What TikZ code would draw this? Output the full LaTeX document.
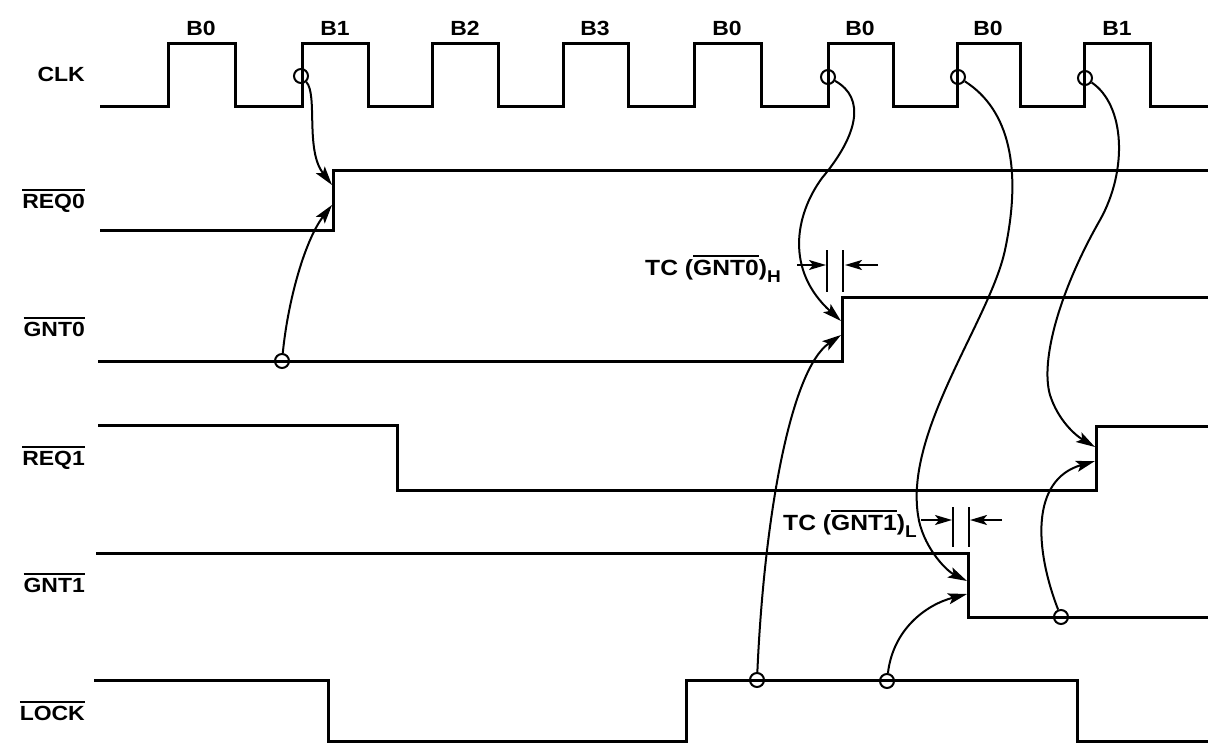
\documentclass[tikz,border=0pt]{standalone}
\usepackage{fontspec}
\setmainfont{Liberation Sans}[FakeStretch=1.12]
\usetikzlibrary{arrows.meta}
\newcommand\ovl[1]{\leavevmode\vbox{\hrule height 1.9pt\kern 2.5pt\hbox{#1}}}
\begin{document}
\begin{tikzpicture}[x=1pt,y=-1pt,
  sig/.style={line width=3pt,line join=miter},
  conn/.style={line width=2pt,-{Stealth[length=19pt,width=11pt,inset=4pt]}},
  tcarrow/.style={line width=2pt,-{Stealth[length=17pt,width=10pt,inset=4pt]}},
  tcbar/.style={line width=2.2pt},
  ring/.style={circle,draw,line width=2pt,minimum size=14pt,inner sep=0pt},
  lab/.style={font=\fontsize{20.5}{24}\selectfont\bfseries,inner sep=0pt},
  tclab/.style={font=\fontsize{22}{26}\selectfont\bfseries,inner sep=0pt}]
\fill[white] (0,0) rectangle (1208,744);
\useasboundingbox (0,0) rectangle (1208,744);

% signal names
\node[lab,anchor=base east] (lclk)  at (85,81)  {CLK};
\node[lab,anchor=base east] (lreq0) at (85,208) {\ovl{REQ0}};
\node[lab,anchor=base east] (lgnt0) at (85,336) {\ovl{GNT0}};
\node[lab,anchor=base east] (lreq1) at (85,465) {\ovl{REQ1}};
\node[lab,anchor=base east] (lgnt1) at (85,592) {\ovl{GNT1}};
\node[lab,anchor=base east] (llock) at (85,720) {\ovl{LOCK}};

% clock pulse labels
\node[lab,anchor=base] (b1) at (201,35)  {B0};
\node[lab,anchor=base] (b2) at (335,35)  {B1};
\node[lab,anchor=base] (b3) at (465,35)  {B2};
\node[lab,anchor=base] (b4) at (595,35)  {B3};
\node[lab,anchor=base] (b5) at (727,35)  {B0};
\node[lab,anchor=base] (b6) at (860,35)  {B0};
\node[lab,anchor=base] (b7) at (988,35)  {B0};
\node[lab,anchor=base] (b8) at (1117,35) {B1};

% waveforms
\draw[sig] (100,106) -| (168,43) -| (235,106) -| (302,43) -| (368,106) -| (432,43) -| (498,106)
  -| (563,43) -| (628,106) -| (694,43) -| (761,106) -| (828,43) -| (893,106) -| (957,43)
  -| (1020,106) -| (1084,43) -| (1150,106) -- (1208,106);
\draw[sig] (100,230) -| (333,170) -- (1208,170);
\draw[sig] (98,361) -| (842,297) -- (1208,297);
\draw[sig] (98,425) -| (397,490) -| (1096,426) -- (1208,426);
\draw[sig] (96,553) -| (968,617) -- (1208,617);
\draw[sig] (94,680) -| (328,741) -| (686,680) -| (1077,741) -- (1208,741);

% reference circles
\node[ring] (c1) at (301,76) {};
\node[ring] (c2) at (282,361) {};
\node[ring] (c3) at (828,77) {};
\node[ring] (c4) at (958,77) {};
\node[ring] (c5) at (1085,78) {};
\node[ring] (c6) at (757,680) {};
\node[ring] (c7) at (887,681) {};
\node[ring] (c8) at (1061,617) {};

% arrow targets on edges
\coordinate (tA) at (332,185);
\coordinate (tB) at (332,205);
\coordinate (tC) at (841,321);
\coordinate (tD) at (841,335);
\coordinate (tE) at (967,581);
\coordinate (tF) at (967,594);
\coordinate (tG) at (1095,447);
\coordinate (tH) at (1095,461);

% causal arrows
\draw[conn] (c1) .. controls (318,95) and (305,150) .. (tA);
\draw[conn] (c2) .. controls (288,300) and (305,240) .. (tB);
\draw[conn] (c3) .. controls (866,98) and (858,135) .. (822,178)
  .. controls (795,215) and (785,270) .. (tC);
\draw[conn] (c6) .. controls (764,520) and (790,370) .. (tD);
\draw[conn] (c4) .. controls (1010,110) and (1022,170) .. (1005,250)
  .. controls (990,320) and (905,430) .. (918,515)
  .. controls (922,545) and (945,570) .. (tE);
\draw[conn] (c7) .. controls (893,630) and (925,605) .. (tF);
\draw[conn] (c5) .. controls (1125,105) and (1128,170) .. (1100,220)
  .. controls (1060,290) and (1040,360) .. (1050,395)
  .. controls (1058,420) and (1075,435) .. (tG);
\draw[conn] (c8) .. controls (1035,550) and (1030,480) .. (tH);

% TC (GNT0)_H
\node[tclab,anchor=base west] (tc0) at (645,275)
  {TC (\ovl{GNT0})\raisebox{-7pt}{\fontsize{17}{17}\selectfont H}};
\coordinate (a0s) at (797,265); \coordinate (a0e) at (826,265);
\coordinate (b0s) at (878,265); \coordinate (b0e) at (845,265);
\coordinate (p0t) at (827,250); \coordinate (p0b) at (827,292);
\coordinate (q0t) at (843,250); \coordinate (q0b) at (843,292);
\draw[tcarrow] (a0s) -- (a0e);
\draw[tcarrow] (b0s) -- (b0e);
\draw[tcbar] (p0t) -- (p0b);
\draw[tcbar] (q0t) -- (q0b);

% TC (GNT1)_L
\node[tclab,anchor=base west] (tc1) at (783,530)
  {TC (\ovl{GNT1})\raisebox{-7pt}{\fontsize{17}{17}\selectfont L}};
\coordinate (a1s) at (921,520); \coordinate (a1e) at (952,520);
\coordinate (b1s) at (1002,520); \coordinate (b1e) at (970,520);
\coordinate (p1t) at (953,507); \coordinate (p1b) at (953,547);
\coordinate (q1t) at (969,507); \coordinate (q1b) at (969,547);
\draw[tcarrow] (a1s) -- (a1e);
\draw[tcarrow] (b1s) -- (b1e);
\draw[tcbar] (p1t) -- (p1b);
\draw[tcbar] (q1t) -- (q1b);
\end{tikzpicture}
\end{document}
